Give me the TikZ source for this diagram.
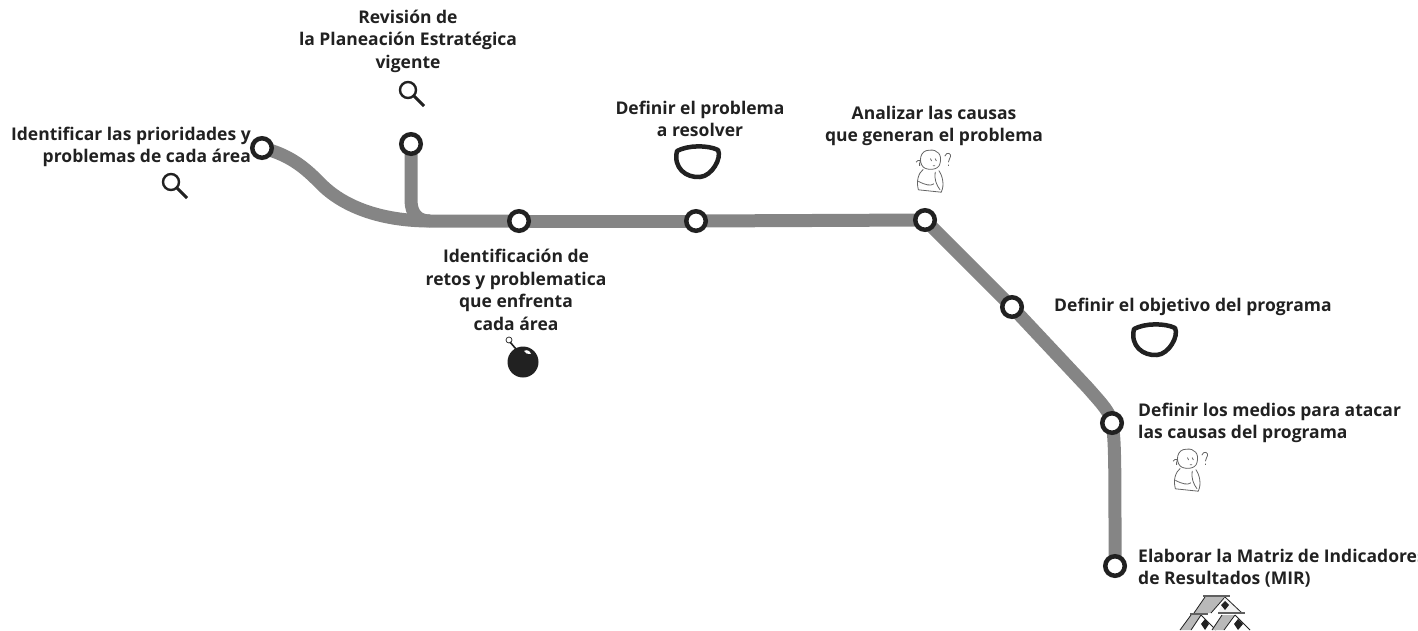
\documentclass[tikz,border=0pt]{standalone}
\usepackage{fontspec}
\setmainfont{Open Sans}[Ligatures=NoCommon]
\definecolor{ink}{gray}{0.13}
\definecolor{trk}{gray}{0.52}
\tikzset{x=1pt,y=-1pt,
 stop/.style={circle,draw=ink,line width=4.5pt,fill=white,minimum size=19.5pt,inner sep=0pt},
 anchorpt/.style={circle,minimum size=19.5pt,inner sep=0pt},
 trackline/.style={draw=trk,line width=13pt},
 lab/.style={font=\fontsize{17.5}{22.5}\selectfont\bfseries,text=ink,inner sep=0pt,align=center},
 labl/.style={lab,align=left,anchor=west},
 labr/.style={lab,align=right,anchor=east},
 mag/.pic={\draw[ink,line width=2.4pt] (0,0) circle (8);
   \draw[ink,line width=3pt] (6,6) -- (16,16);},
 blob/.pic={\draw[ink,line width=4.5pt,line join=round] (-21,-12) .. controls (-10,-18) and (10,-18) .. (20,-13) .. controls (24,-5) and (14,13) .. (2,14) .. controls (-12,15) and (-25,5) .. (-21,-12) -- cycle;},
 thinker/.pic={\begin{scope}[scale=1.2,draw=ink!70,line width=.8pt]
   \draw (-4,-14) .. controls (-12,-14) and (-13,-4) .. (-9,0) .. controls (-6,3) and (4,3) .. (5,-3) .. controls (7,-10) and (3,-15) .. (-4,-14) -- cycle;
   \draw (-9,2) .. controls (-13,5) and (-15,12) .. (-13,19) -- (6,21) .. controls (9,15) and (7,7) .. (4,3);
   \draw (1,4) .. controls (0,10) and (2,15) .. (5,19);
   \draw (-13,12) .. controls (-7,15) and (-3,16) .. (0,14);
   \draw (-3,-7) -- (-2,-5) (1,-7) -- (2,-5) (-1,-1) -- (1,-1);
   \draw (9,-9) .. controls (10,-13) and (16,-12) .. (13,-7) -- (12,-4) (12,-2) -- (12,-1);
   \draw (-15,-4) .. controls (-13,-7) and (-10,-5) .. (-12,-3) -- (-12,-1);
 \end{scope}},
}
\begin{document}
\begin{tikzpicture}
\useasboundingbox (0,0) rectangle (1418,630);
\clip (0,0) rectangle (1418,630);
\coordinate (j1) at (430,221);
\node[anchorpt] (a) at (262,148) {};
\node[anchorpt] (b) at (411,144) {};
\node[anchorpt] (c) at (519,221) {};
\node[anchorpt] (d) at (696,221) {};
\node[anchorpt] (e) at (925,220) {};
\node[anchorpt] (f) at (1012,307) {};
\node[anchorpt] (g) at (1112,423) {};
\node[anchorpt] (h) at (1115,566) {};
% tracks
\draw[trackline] (a.center) .. controls (292,155) and (308,171) .. (320,183) .. controls (342,206) and (380,221) .. (j1) -- (c.center);
\draw[trackline] (b.center) -- (411,200) .. controls (411,214) and (418,221) .. (j1);
\draw[trackline] (c.center) -- (d.center);
\draw[trackline] (d.center) -- (e.center);
\draw[trackline] (e.center) -- (f.center);
\draw[trackline] (f.center) -- (1088,388) .. controls (1102,404) and (1110,412) .. (g.center);
\draw[trackline] (g.center) .. controls (1115,440) and (1115,460) .. (h.center);
% stops
\foreach \n/\p in {na/a,nb/b,nc/c,nd/d,ne/e,nf/f,ng/g,nh/h}
  \node[stop] (\n) at (\p) {};
% labels
\node[labr] (ta) at (251,147) {Identificar las prioridades y\\problemas de cada área};
\node[lab] (tb) at (408,41) {Revisión de\\la Planeación Estratégica\\vigente};
\node[lab] (tc) at (516,290) {Identificación de\\retos y problematica\\que enfrenta\\cada área};
\node[lab] (td) at (700,119) {Definir el problema\\a resolver};
\node[lab] (te) at (934,126) {Analizar las causas\\que generan el problema};
\node[labl] (tf) at (1054,307) {Definir el objetivo del programa};
\node[labl] (tg) at (1138,423) {Definir los medios para atacar\\las causas del programa};
\node[labl] (th) at (1138,568) {Elaborar la Matriz de Indicadores\\de Resultados (MIR)};
% icons
\pic at (171,182) {mag};
\pic at (408,90) {mag};
\pic at (698,163) {blob};
\pic at (1155,341) {blob};
\pic at (934,167) {thinker};
\pic at (1191,466) {thinker};
% bomb
\fill[ink] (523,362) circle (15.5);
\fill[white] (524,351) .. controls (527,349) and (530,351) .. (531,354) .. controls (528,355) and (525,353) .. (524,351) -- cycle;
\draw[ink,line width=1.6pt] (516,349) -- (510,342);
\draw[ink,line width=.7pt] (509,340) circle (3);
% card house
\begin{scope}[draw=ink,line width=.8pt]
 \fill[gray!55] (1205,597) -- (1225,597) -- (1211,613) -- (1194,613) -- cycle;
 \draw (1205,597) -- (1194,613) (1225,597) -- (1211,613);
 \fill[gray!10] (1225,597) -- (1242,613) -- (1218,613) -- cycle;
 \draw (1225,597) -- (1242,613);
 \fill[ink] (1225,601) -- (1229,605) -- (1225,610) -- (1221,605) -- cycle;
 \fill[gray!55] (1191,615) -- (1201,615) -- (1191,630) -- (1180,630) -- cycle;
 \draw (1191,615) -- (1180,630) (1201,615) -- (1191,630) (1201,615) -- (1216,630);
 \fill[ink] (1205,619) -- (1209,624) -- (1205,630) -- (1201,624) -- cycle;
 \fill[gray!55] (1222,615) -- (1235,615) -- (1224,630) -- (1212,630) -- cycle;
 \draw (1222,615) -- (1212,630) (1235,615) -- (1224,630) (1235,615) -- (1250,630);
 \fill[ink] (1238,619) -- (1243,624) -- (1238,630) -- (1234,624) -- cycle;
 \draw[line width=2.2pt,gray!75!black] (1203,596) -- (1230,596);
 \draw[line width=2.2pt,gray!75!black] (1190,614) -- (1208,614) (1218,613) -- (1245,613);
\end{scope}
\end{tikzpicture}
\end{document}
